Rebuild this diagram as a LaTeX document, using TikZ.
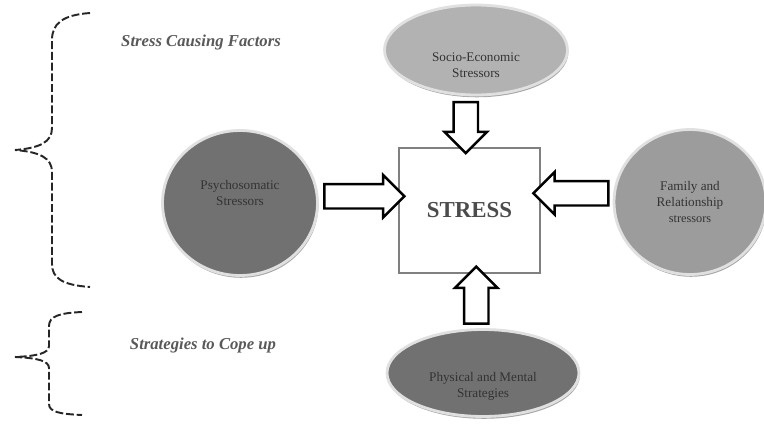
\documentclass[tikz,border=0pt]{standalone}
\usepackage{fontspec}
\setmainfont{Liberation Serif}
\usetikzlibrary{shapes.geometric, shapes.arrows, shadows, calc}
\definecolor{paleGray}{HTML}{B2B2B2}
\definecolor{midGray}{HTML}{9C9C9C}
\definecolor{darkGray}{HTML}{717171}
\tikzset{
	stressor/.style={ellipse, draw=white!88!black, line width=1.6pt, inner sep=0pt,
		drop shadow={shadow xshift=.5pt, shadow yshift=-1.3pt, fill=black!70}},
	stressortext/.style={align=center, text=black!80, inner sep=0pt,
		font=\fontsize{7.5}{9}\selectfont},
	blockarrow/.style={single arrow, draw=black, line width=1.4pt, fill=white, inner sep=11*.2mm,
		single arrow head extend=9*.2mm, single arrow head indent=0pt},
	heading/.style={text=black!65, font=\fontsize{9.5}{11}\selectfont\bfseries\itshape},
	bracket/.style={black!85, line width=1.1pt, dash pattern=on 4.5pt off 1.6pt}
}
\begin{document}
\begin{tikzpicture}[x=.02cm, y=-.02cm]
		\useasboundingbox (0,0) rectangle (764,426);
		% centre box
		\node[draw=black!50, line width=1.5pt, fill=white, minimum width=141*.2mm,
			minimum height=125*.2mm, text=black!70, font=\fontsize{13}{15}\selectfont\bfseries]
			(stress) at (469.5,210.5) {STRESS};
		% the four stressors
		\node[stressor, fill=paleGray, minimum width=183*.2mm, minimum height=90*.2mm] (socio) at (476,50) {};
		\node[stressor, fill=darkGray, minimum width=155*.2mm, minimum height=145*.2mm] (psycho) at (240,203) {};
		\node[stressor, fill=midGray, minimum width=152*.2mm, minimum height=145*.2mm] (family) at (690,202) {};
		\node[stressor, fill=darkGray, minimum width=192*.2mm, minimum height=87*.2mm] (physical) at (483,373) {};
		\node[stressortext, yshift=-3mm] (sociotext) at (socio) {Socio-Economic\\Stressors};
		\node[stressortext, yshift=2mm] (psychotext) at (psycho) {Psychosomatic\\Stressors};
		\node[stressortext] (familytext) at (family) {Family and\\Relationship\\{\fontsize{7}{9}\selectfont stressors}};
		\node[stressortext, yshift=-2.6mm] (physicaltext) at (physical) {Physical and Mental\\Strategies};
		% block arrows
		\node[blockarrow, shape border rotate=270, minimum height=51*.2mm, xshift=-1.4mm]
			(arrtop) at ($(socio.south)!.5!(stress.north)$) {};
		\node[blockarrow, shape border rotate=0, minimum height=80*.2mm, yshift=2.1mm]
			(arrleft) at ($(psycho.east)!.5!(stress.west)$) {};
		\node[blockarrow, shape border rotate=180, minimum height=75*.2mm, yshift=2.6mm]
			(arrright) at ($(family.west)!.5!(stress.east)$) {};
		\node[blockarrow, shape border rotate=90, minimum height=57*.2mm]
			(arrbottom) at ($(physical.north)!.5!(stress.south)$) {};
		% headings and brackets
		\node[heading] (causing) at (201,42) {Stress Causing Factors};
		\node[heading] (coping) at (203,345) {Strategies to Cope up};
		\draw[bracket] (90,13) .. controls (62,15) and (52,24) .. (52,40) -- (52,128)
			.. controls (52,142) and (40,148) .. (15,150)
			.. controls (40,152) and (52,158) .. (52,172) -- (52,264)
			.. controls (52,278) and (62,285) .. (90,287);
		\draw[bracket] (82,312) .. controls (60,313) and (49,316) .. (49,326) -- (49,346)
			.. controls (49,353) and (38,356) .. (15,357)
			.. controls (38,358) and (49,361) .. (49,368) -- (49,404)
			.. controls (49,412) and (60,414) .. (82,415);
	\end{tikzpicture}
\end{document}
